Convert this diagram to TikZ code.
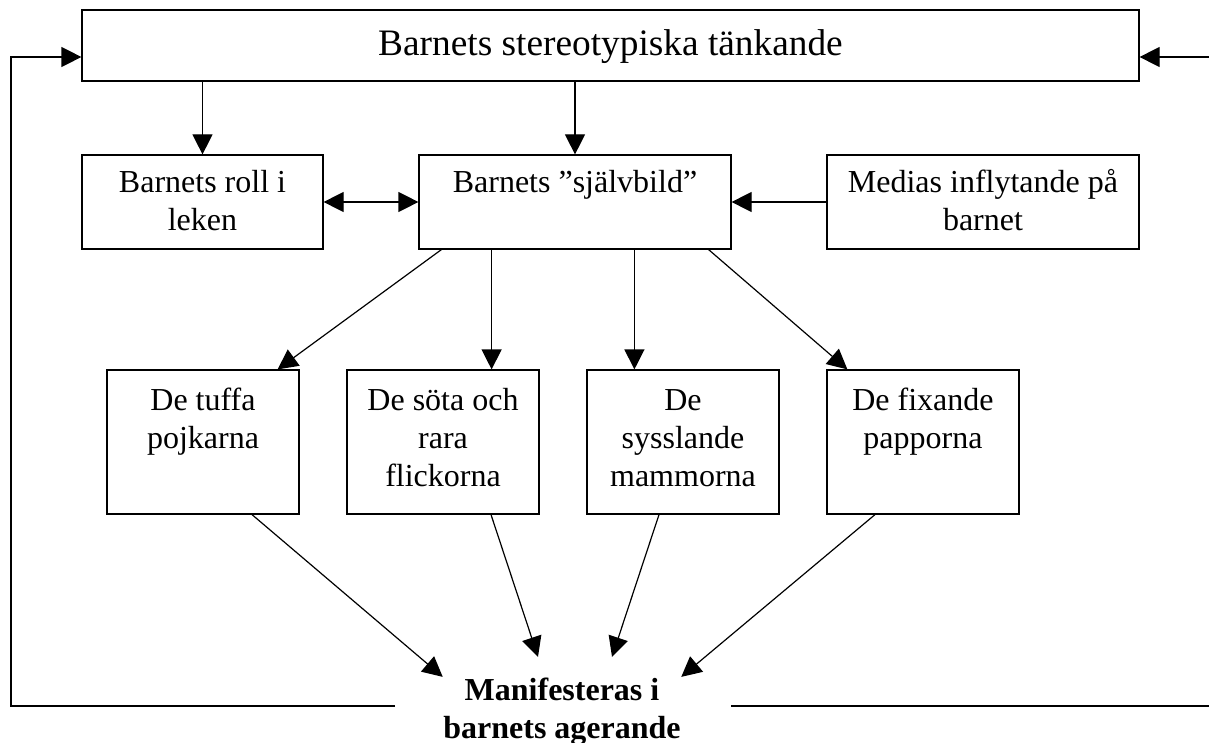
\documentclass[tikz,border=0pt]{standalone}
\usepackage{fontspec}
\setmainfont{Liberation Serif}
\usepackage{tikz}
\usetikzlibrary{arrows.meta,positioning,calc}

% fixed size box, text set from the top
\newcommand{\boxtext}[4]{\parbox[c][#2][t]{#1}{\centering\rule{0pt}{#3}#4}}

\begin{document}
\begin{tikzpicture}[x=0.5pt,y=-0.5pt,line width=0.6pt,on grid,
    >={Triangle[length=10pt,width=10pt]},
    box/.style={draw,inner sep=0pt,font=\fontsize{16}{19}\selectfont}]
\useasboundingbox (0,0) rectangle (1209,743);

\node[box,font=\fontsize{18.67}{21.5}\selectfont] (top) at (610.5,45.5)
    {\boxtext{528.5pt}{35.5pt}{23pt}{Barnets stereotypiska tänkande}};

\node[box] (self) at (575,202) {\boxtext{156pt}{47pt}{19pt}{Barnets ”självbild”}};
\node[box] (roll) [left=186.25pt of self] {\boxtext{120.5pt}{47pt}{19pt}{Barnets roll i\\leken}};
\node[box] (media) [right=204pt of self] {\boxtext{156pt}{47pt}{19pt}{Medias inflytande på\\barnet}};

\node[box] (tuffa) at (203,442) {\boxtext{96pt}{72pt}{20pt}{De tuffa\\pojkarna}};
\node[box] (sota) [right=120pt of tuffa] {\boxtext{96pt}{72pt}{20pt}{De söta och\\rara\\flickorna}};
\node[box] (mammor) [right=120pt of sota] {\boxtext{96pt}{72pt}{20pt}{De\\sysslande\\mammorna}};
\node[box] (pappor) [right=120pt of mammor] {\boxtext{96pt}{72pt}{20pt}{De fixande\\papporna}};

\node[font=\fontsize{16}{19}\selectfont\bfseries,align=center,inner sep=0pt,anchor=base]
    (out) at (562,738) {Manifesteras i\\barnets agerande};

\coordinate (lgap) at (395,706);
\coordinate (rgap) at (731,706);

% from the top box
\path[->]
    (roll.north |- top.south) edge (roll.north)
    (self.north |- top.south) edge (self.north);

% middle row
\draw[<->] (roll.east) -- (self.west);
\draw[->] (media.west) -- (self.east);

\draw[->] ([xshift=11.5pt]self.south west) -- ([xshift=-11pt]tuffa.north east);
\draw[->] ([xshift=-24pt]sota.north east |- self.south) -- ([xshift=-24pt]sota.north east);
\draw[->] ([xshift=24pt]mammor.north west |- self.south) -- ([xshift=24pt]mammor.north west);
\draw[->] ([xshift=-11.5pt]self.south east) -- ([xshift=10.5pt]pappor.north west);

% down to the bottom text
\draw[->] ([xshift=24.5pt]tuffa.south) -- (out.north west);
\draw[->] ([xshift=24pt]sota.south) -- ($(out.north)+(-24,-20)$);
\draw[->] ([xshift=-12pt]mammor.south) -- ($(out.north)+(50,-20)$);
\draw[->] ([xshift=-24pt]pappor.south) -- (out.north east);

% feedback back to the top
\draw[->] (lgap) -- (11,706) |- ([yshift=-5.75pt]top.west);
\draw[->] (rgap) -- (1212,706) |- ([yshift=-5.75pt]top.east);
\end{tikzpicture}
\end{document}
